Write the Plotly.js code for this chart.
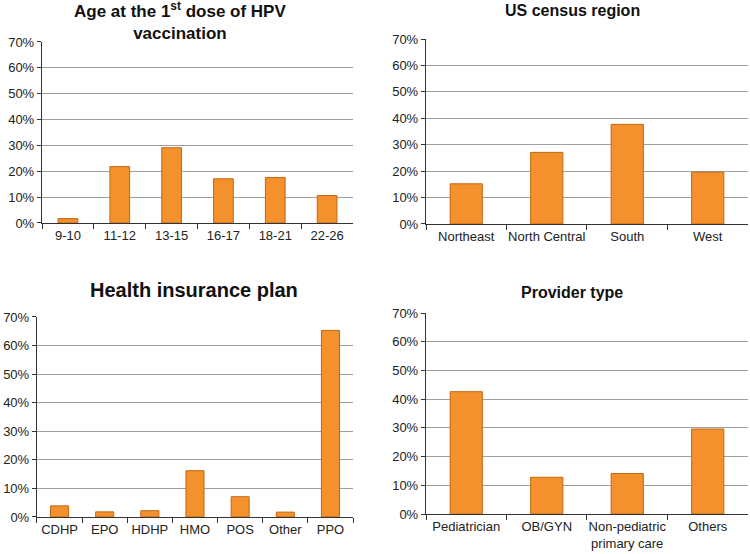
<!DOCTYPE html>
<html><head><meta charset="utf-8">
<script src="https://cdn.plot.ly/plotly-3.0.1.min.js"></script>
<style>html,body{margin:0;padding:0;background:#fff}#chart{width:750px;height:554px}</style>
</head><body><div id="chart"></div>
<script>
const ageCats = ["9-10","11-12","13-15","16-17","18-21","22-26"];
const ageVals = [1.7,21.8,29.1,17.1,17.6,10.6];
const regionCats = ["Northeast","North Central","South","West"];
const regionVals = [15.2,27.1,37.7,19.6];
const planCats = ["CDHP","EPO","HDHP","HMO","POS","Other","PPO"];
const planVals = [3.9,1.8,2.2,16.2,7.1,1.7,65.3];
const providerCats = ["Pediatrician","OB/GYN","Non-pediatric<br>primary care","Others"];
const providerVals = [42.6,12.8,14.1,29.6];
const yTicks = [0,10,20,30,40,50,60,70];
const yTickText = ["0%","10%","20%","30%","40%","50%","60%","70%"];

function bar(x,y,xa,ya,w){return {type:'bar',x:x,y:y,xaxis:xa,yaxis:ya,width:w,
  marker:{color:'#F5912C', line:{color:'#BF6815', width:1}},hoverinfo:'x+y'};}
const data = [
  bar(ageCats,ageVals,'x','y',0.38),
  bar(regionCats,regionVals,'x2','y2',0.4),
  bar(planCats,planVals,'x3','y3',0.4),
  bar(providerCats,providerVals,'x4','y4',0.4)
];
function tf(){return {family:'Liberation Sans, Arial, sans-serif', size:13, color:'#222'};}
function xa(dom, anchor){return {domain:dom, anchor:anchor, type:'category', tickangle:0, automargin:false,
  showline:true, linecolor:'#333', linewidth:1.2, ticks:'outside', tickson:'boundaries', ticklen:5,
  tickcolor:'#333', tickfont:tf(), showgrid:false, fixedrange:true};}
function ya(dom, anchor){return {domain:dom, anchor:anchor, range:[0,70], tickmode:'array', tickvals:yTicks, ticktext:yTickText,
  automargin:false, showline:true, linecolor:'#333', linewidth:1.2, ticks:'outside', ticklen:4, tickcolor:'#333',
  tickfont:tf(), showgrid:true, gridcolor:'#a0a0a0', gridwidth:1, zeroline:false, fixedrange:true};}
function ann(text,x,y,size){return {text:'<b>'+text+'</b>', x:x, y:y, xref:'paper', yref:'paper', xanchor:'center', yanchor:'middle', showarrow:false,
  font:{family:'Liberation Sans, Arial, sans-serif', size:size, color:'#111'}};}
const layout = {
  width:750, height:554, margin:{l:0,r:0,t:0,b:0}, showlegend:false,
  paper_bgcolor:'#fff', plot_bgcolor:'#fff',
  xaxis: xa([0.056,0.4707],'y'), yaxis: ya([0.5975,0.9242],'x'),
  xaxis2: xa([0.568,0.9973],'y2'), yaxis2: ya([0.5957,0.9296],'x2'),
  xaxis3: xa([0.0493,0.4707],'y3'), yaxis3: ya([0.0668,0.4278],'x3'),
  xaxis4: xa([0.568,0.9973],'y4'), yaxis4: ya([0.0722,0.435],'x4'),
  annotations:[
    ann('Age at the 1<sup>st</sup> dose of HPV<br>vaccination',0.24,1-21/554,17),
    ann('US census region',0.763,1-10/554,16),
    ann('Health insurance plan',0.258,1-290/554,20),
    ann('Provider type',0.763,1-292/554,16)
  ]
};
Plotly.newPlot('chart', data, layout, {displayModeBar:false, staticPlot:true});
</script></body></html>
